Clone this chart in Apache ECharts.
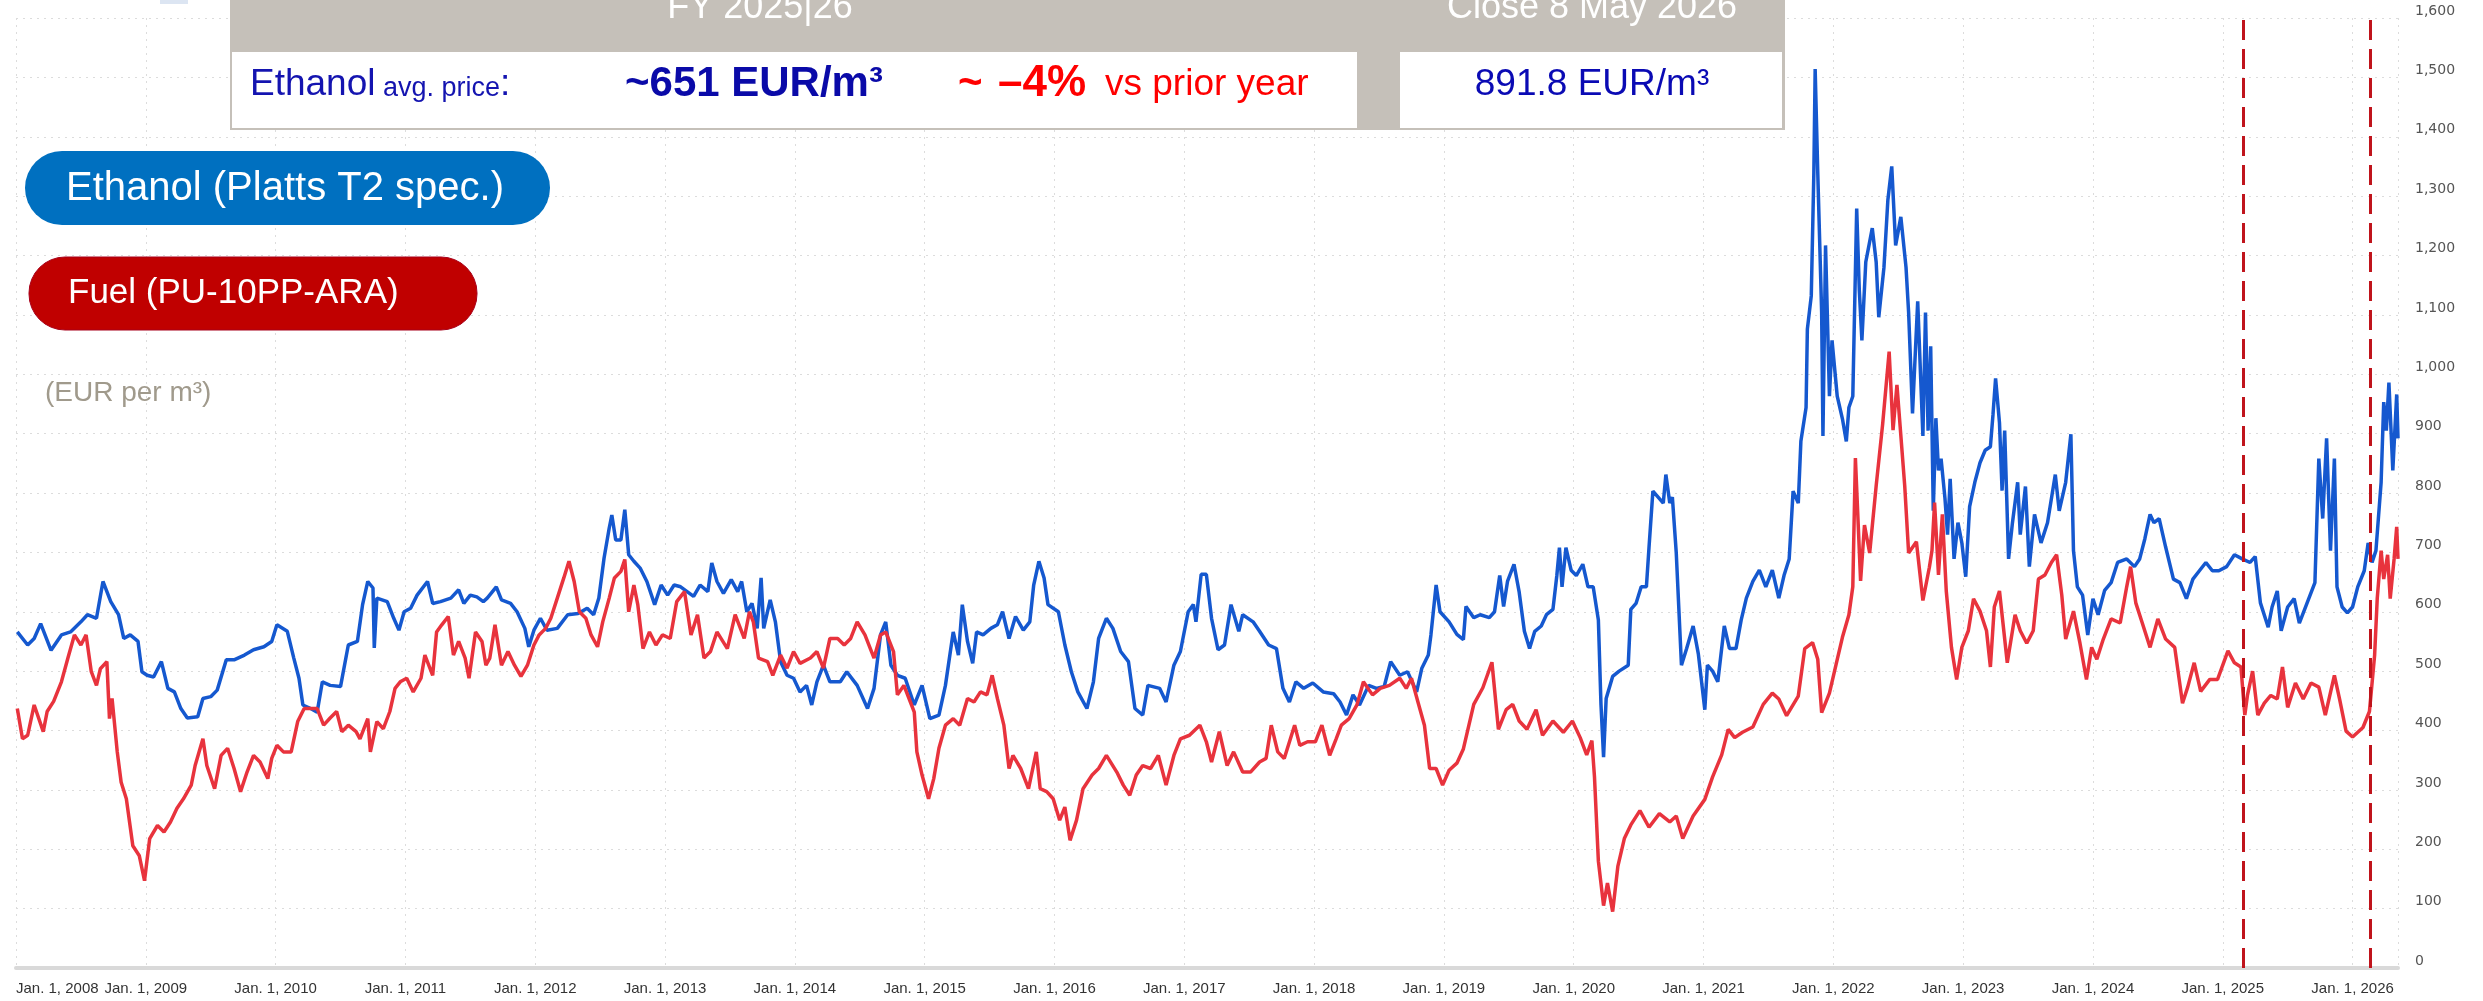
<!DOCTYPE html>
<html>
<head>
<meta charset="utf-8">
<script src="https://cdn.jsdelivr.net/npm/echarts@6/dist/echarts.min.js"></script>
<style>
  html, body { margin: 0; padding: 0; background: #fff; }
  #chart { width: 2483px; height: 1001px; }
</style>
</head>
<body>
<div id="chart"></div>
<script>
// [year (decimal), EUR per m3]
var ethanolPrices = [
  [2008.01,566],[2008.09,544],[2008.14,555],[2008.19,580],[2008.27,535],[2008.35,561],[2008.42,566],[2008.50,583],[2008.55,595],[2008.62,589],
  [2008.67,651],[2008.73,617],[2008.79,595],[2008.83,555],[2008.88,561],[2008.94,550],[2008.97,499],[2009.01,493],[2009.06,490],[2009.12,516],
  [2009.17,471],[2009.22,465],[2009.27,437],[2009.32,421],[2009.40,423],[2009.44,454],[2009.50,457],[2009.55,468],[2009.62,519],[2009.68,519],
  [2009.76,527],[2009.83,536],[2009.91,541],[2009.97,550],[2010.01,578],[2010.09,567],[2010.14,522],[2010.18,488],[2010.21,443],[2010.27,437],
  [2010.32,431],[2010.36,482],[2010.42,476],[2010.50,474],[2010.56,544],[2010.63,550],[2010.67,612],[2010.71,651],[2010.75,640],[2010.76,539],
  [2010.78,623],[2010.86,617],[2010.91,589],[2010.95,569],[2010.99,600],[2011.04,606],[2011.09,628],[2011.17,651],[2011.21,614],[2011.27,617],
  [2011.35,623],[2011.41,637],[2011.45,614],[2011.50,628],[2011.55,625],[2011.60,617],[2011.63,623],[2011.70,642],[2011.74,620],[2011.81,614],
  [2011.86,600],[2011.92,572],[2011.95,541],[2011.99,569],[2012.04,589],[2012.09,569],[2012.17,572],[2012.25,595],[2012.33,597],[2012.40,606],
  [2012.45,595],[2012.49,623],[2012.53,690],[2012.57,741],[2012.59,763],[2012.62,721],[2012.66,721],[2012.69,772],[2012.72,696],[2012.76,685],
  [2012.81,673],[2012.86,651],[2012.92,612],[2012.97,645],[2013.02,628],[2013.07,645],[2013.12,642],[2013.17,634],[2013.22,626],[2013.27,645],
  [2013.33,634],[2013.36,682],[2013.40,651],[2013.45,631],[2013.51,654],[2013.56,634],[2013.59,651],[2013.63,600],[2013.67,614],[2013.71,572],
  [2013.74,657],[2013.76,572],[2013.81,620],[2013.85,583],[2013.89,516],[2013.94,493],[2013.99,488],[2014.04,465],[2014.09,476],[2014.13,443],
  [2014.17,482],[2014.22,510],[2014.27,482],[2014.35,482],[2014.40,499],[2014.48,476],[2014.56,437],[2014.61,471],[2014.66,561],[2014.70,583],
  [2014.74,510],[2014.79,493],[2014.85,488],[2014.92,443],[2014.98,476],[2015.04,420],[2015.11,426],[2015.16,476],[2015.22,566],[2015.26,527],
  [2015.29,612],[2015.33,550],[2015.37,513],[2015.40,566],[2015.45,561],[2015.51,572],[2015.56,578],[2015.60,600],[2015.65,555],[2015.70,592],
  [2015.76,569],[2015.81,583],[2015.84,645],[2015.88,685],[2015.92,657],[2015.95,612],[2016.03,600],[2016.08,544],[2016.13,499],[2016.18,465],
  [2016.25,437],[2016.30,482],[2016.34,555],[2016.40,589],[2016.45,572],[2016.51,533],[2016.57,516],[2016.62,437],[2016.68,426],[2016.72,476],
  [2016.81,471],[2016.86,448],[2016.92,510],[2016.97,533],[2017.03,600],[2017.07,612],[2017.09,583],[2017.13,663],[2017.17,663],[2017.21,589],
  [2017.26,536],[2017.31,544],[2017.36,612],[2017.42,567],[2017.45,595],[2017.53,583],[2017.58,567],[2017.65,544],[2017.71,538],[2017.76,471],
  [2017.81,448],[2017.86,482],[2017.92,471],[2017.99,480],[2018.07,465],[2018.15,462],[2018.20,448],[2018.25,426],[2018.30,460],[2018.35,443],
  [2018.42,476],[2018.48,471],[2018.54,474],[2018.59,516],[2018.66,493],[2018.72,499],[2018.79,465],[2018.83,505],[2018.88,527],[2018.90,561],
  [2018.94,645],[2018.97,600],[2019.04,583],[2019.10,562],[2019.15,553],[2019.17,609],[2019.23,590],[2019.28,595],[2019.35,590],[2019.39,600],
  [2019.43,661],[2019.46,609],[2019.49,651],[2019.54,680],[2019.58,633],[2019.62,567],[2019.66,538],[2019.70,567],[2019.75,576],[2019.79,595],
  [2019.84,604],[2019.87,661],[2019.89,708],[2019.91,642],[2019.94,708],[2019.98,670],[2020.02,661],[2020.07,680],[2020.11,642],[2020.15,642],
  [2020.19,586],[2020.21,444],[2020.23,355],[2020.25,454],[2020.30,491],[2020.35,500],[2020.42,510],[2020.44,604],[2020.48,614],[2020.52,642],
  [2020.56,642],[2020.58,708],[2020.61,803],[2020.65,793],[2020.69,783],[2020.71,831],[2020.74,783],[2020.76,793],[2020.79,699],[2020.83,510],
  [2020.87,538],[2020.92,576],[2020.96,529],[2021.01,435],[2021.03,510],[2021.07,500],[2021.11,482],[2021.16,576],[2021.20,538],[2021.25,538],
  [2021.29,586],[2021.33,623],[2021.38,651],[2021.43,670],[2021.48,642],[2021.53,670],[2021.58,623],[2021.62,661],[2021.66,689],[2021.69,803],
  [2021.73,783],[2021.75,887],[2021.79,944],[2021.80,1076],[2021.83,1132],[2021.85,1340],[2021.86,1514],[2021.88,1340],[2021.91,1104],[2021.92,896],
  [2021.94,1217],[2021.97,963],[2021.99,1057],[2022.03,963],[2022.07,925],[2022.10,887],[2022.12,944],[2022.15,963],[2022.18,1279],[2022.20,1142],
  [2022.22,1057],[2022.25,1189],[2022.30,1246],[2022.33,1189],[2022.35,1096],[2022.39,1180],[2022.42,1293],[2022.45,1350],[2022.48,1217],[2022.52,1265],
  [2022.56,1180],[2022.58,1104],[2022.61,934],[2022.65,1123],[2022.69,896],[2022.71,1104],[2022.73,905],[2022.75,1047],[2022.77,770],[2022.79,926],
  [2022.81,838],[2022.83,858],[2022.86,791],[2022.88,730],[2022.90,824],[2022.93,689],[2022.96,750],[2022.99,716],[2023.02,659],[2023.05,777],
  [2023.09,818],[2023.13,851],[2023.17,872],[2023.21,878],[2023.23,932],[2023.25,993],[2023.28,918],[2023.30,804],[2023.32,905],[2023.35,689],
  [2023.38,750],[2023.42,818],[2023.44,730],[2023.48,811],[2023.51,676],[2023.55,764],[2023.60,716],[2023.65,750],[2023.71,831],[2023.74,770],
  [2023.79,818],[2023.83,899],[2023.85,703],[2023.88,642],[2023.92,628],[2023.96,561],[2024.00,622],[2024.04,595],[2024.09,636],[2024.14,649],
  [2024.19,683],[2024.26,689],[2024.32,676],[2024.36,689],[2024.40,723],[2024.44,764],[2024.47,750],[2024.51,757],[2024.56,709],[2024.62,655],
  [2024.67,649],[2024.72,622],[2024.77,655],[2024.82,669],[2024.87,683],[2024.92,669],[2024.97,669],[2025.03,676],[2025.09,696],[2025.15,689],
  [2025.21,683],[2025.25,693],[2025.29,615],[2025.35,574],[2025.38,608],[2025.42,635],[2025.45,568],[2025.50,608],[2025.55,622],[2025.59,581],
  [2025.65,615],[2025.71,649],[2025.74,858],[2025.77,757],[2025.80,892],[2025.83,703],[2025.86,858],[2025.88,642],[2025.92,608],[2025.96,598],
  [2026.00,608],[2026.04,642],[2026.09,669],[2026.12,716],[2026.15,683],[2026.18,703],[2026.22,818],[2026.24,953],[2026.26,905],[2026.28,986],
  [2026.31,838],[2026.34,966],[2026.35,892]
];

var fuelPrices = [
  [2008.01,437],[2008.05,386],[2008.09,392],[2008.14,443],[2008.21,398],[2008.24,432],[2008.29,449],[2008.35,482],[2008.40,522],[2008.45,561],
  [2008.50,544],[2008.54,561],[2008.58,499],[2008.62,476],[2008.65,504],[2008.70,516],[2008.72,420],[2008.74,454],[2008.78,364],[2008.81,313],
  [2008.85,285],[2008.90,206],[2008.95,189],[2008.99,147],[2009.03,218],[2009.09,240],[2009.14,229],[2009.19,246],[2009.24,269],[2009.29,285],
  [2009.35,308],[2009.38,341],[2009.44,386],[2009.47,341],[2009.53,302],[2009.58,358],[2009.63,370],[2009.68,336],[2009.73,297],[2009.78,330],
  [2009.83,358],[2009.88,347],[2009.94,319],[2009.97,353],[2010.01,375],[2010.06,364],[2010.12,364],[2010.17,415],[2010.22,437],[2010.27,437],
  [2010.32,437],[2010.37,409],[2010.42,421],[2010.47,432],[2010.51,398],[2010.56,409],[2010.62,398],[2010.65,386],[2010.71,420],[2010.73,364],
  [2010.78,415],[2010.83,403],[2010.88,432],[2010.92,471],[2010.96,482],[2011.01,488],[2011.06,465],[2011.12,488],[2011.15,527],[2011.21,493],
  [2011.24,566],[2011.28,578],[2011.33,592],[2011.37,527],[2011.41,550],[2011.46,522],[2011.49,488],[2011.54,566],[2011.59,550],[2011.62,510],
  [2011.65,522],[2011.69,578],[2011.74,510],[2011.79,533],[2011.84,510],[2011.89,491],[2011.94,510],[2011.99,544],[2012.03,561],[2012.08,572],
  [2012.12,589],[2012.17,623],[2012.22,657],[2012.26,685],[2012.30,651],[2012.34,600],[2012.39,589],[2012.43,561],[2012.48,541],[2012.52,583],
  [2012.57,623],[2012.61,657],[2012.66,668],[2012.69,688],[2012.72,600],[2012.76,645],[2012.79,612],[2012.83,538],[2012.88,566],[2012.93,544],
  [2012.98,561],[2013.04,555],[2013.09,617],[2013.15,634],[2013.20,561],[2013.25,595],[2013.30,522],[2013.35,533],[2013.40,566],[2013.48,538],
  [2013.54,595],[2013.61,555],[2013.65,600],[2013.68,583],[2013.72,522],[2013.79,516],[2013.83,493],[2013.89,527],[2013.94,505],[2013.99,533],
  [2014.04,513],[2014.12,522],[2014.17,533],[2014.22,505],[2014.27,555],[2014.33,555],[2014.38,544],[2014.43,555],[2014.48,583],[2014.54,561],
  [2014.61,522],[2014.66,561],[2014.70,566],[2014.76,533],[2014.79,460],[2014.84,476],[2014.89,448],[2014.92,431],[2014.94,364],[2014.98,325],
  [2015.03,285],[2015.07,319],[2015.11,370],[2015.16,409],[2015.22,420],[2015.27,409],[2015.33,454],[2015.38,448],[2015.43,465],[2015.48,460],
  [2015.52,493],[2015.56,454],[2015.61,409],[2015.65,336],[2015.68,358],[2015.74,336],[2015.80,302],[2015.86,364],[2015.89,302],[2015.94,297],
  [2015.99,285],[2016.04,249],[2016.08,271],[2016.12,215],[2016.17,249],[2016.22,302],[2016.29,325],[2016.34,336],[2016.40,358],[2016.48,330],
  [2016.53,308],[2016.58,291],[2016.63,325],[2016.68,341],[2016.74,336],[2016.80,358],[2016.86,308],[2016.92,358],[2016.97,386],[2017.04,392],
  [2017.12,409],[2017.17,381],[2017.21,347],[2017.27,398],[2017.33,341],[2017.38,364],[2017.45,330],[2017.51,330],[2017.58,347],[2017.63,353],
  [2017.67,409],[2017.72,364],[2017.77,353],[2017.85,409],[2017.89,375],[2017.95,381],[2018.01,381],[2018.06,409],[2018.12,358],[2018.17,386],
  [2018.21,409],[2018.27,420],[2018.33,443],[2018.38,482],[2018.45,460],[2018.51,471],[2018.58,476],[2018.66,488],[2018.71,471],[2018.75,488],
  [2018.80,448],[2018.85,409],[2018.89,336],[2018.94,336],[2018.99,308],[2019.04,333],[2019.10,345],[2019.15,369],[2019.23,444],[2019.30,472],
  [2019.37,515],[2019.42,402],[2019.48,435],[2019.53,444],[2019.58,416],[2019.64,402],[2019.71,435],[2019.76,392],[2019.84,416],[2019.92,397],
  [2019.99,416],[2020.05,388],[2020.10,359],[2020.14,383],[2020.16,322],[2020.19,180],[2020.23,105],[2020.26,143],[2020.30,95],[2020.34,171],
  [2020.39,218],[2020.44,241],[2020.51,265],[2020.58,237],[2020.66,260],[2020.74,246],[2020.79,256],[2020.84,218],[2020.92,256],[2021.01,284],
  [2021.07,322],[2021.14,359],[2021.19,402],[2021.24,388],[2021.30,397],[2021.38,406],[2021.46,444],[2021.53,463],[2021.58,453],[2021.64,425],
  [2021.73,458],[2021.78,538],[2021.84,548],[2021.88,520],[2021.91,430],[2021.97,463],[2022.02,510],[2022.07,557],[2022.12,595],[2022.15,642],
  [2022.17,859],[2022.21,652],[2022.24,746],[2022.28,699],[2022.33,812],[2022.38,916],[2022.43,1038],[2022.46,906],[2022.49,982],[2022.55,812],
  [2022.58,699],[2022.64,718],[2022.69,619],[2022.74,675],[2022.76,703],[2022.78,784],[2022.81,662],[2022.84,764],[2022.87,635],[2022.91,540],
  [2022.95,486],[2022.99,540],[2023.04,568],[2023.08,622],[2023.13,601],[2023.18,568],[2023.21,507],[2023.24,608],[2023.28,635],[2023.34,514],
  [2023.40,595],[2023.44,568],[2023.49,547],[2023.54,568],[2023.58,655],[2023.63,662],[2023.68,683],[2023.72,696],[2023.76,628],[2023.79,554],
  [2023.85,601],[2023.90,547],[2023.95,486],[2023.99,540],[2024.03,520],[2024.08,554],[2024.14,588],[2024.21,581],[2024.26,642],[2024.29,676],
  [2024.33,615],[2024.38,581],[2024.44,540],[2024.50,588],[2024.56,554],[2024.63,540],[2024.69,446],[2024.73,473],[2024.78,514],[2024.83,466],
  [2024.90,486],[2024.96,486],[2025.04,534],[2025.09,514],[2025.14,507],[2025.17,426],[2025.19,459],[2025.23,500],[2025.27,426],[2025.32,446],
  [2025.37,459],[2025.42,453],[2025.46,507],[2025.50,439],[2025.56,480],[2025.62,453],[2025.68,480],[2025.74,473],[2025.79,426],[2025.86,493],
  [2025.90,453],[2025.95,399],[2026.00,389],[2026.08,405],[2026.13,432],[2026.17,527],[2026.19,622],[2026.22,703],[2026.24,655],[2026.27,696],
  [2026.29,622],[2026.32,689],[2026.34,743],[2026.35,689]
];

// fiscal year 2025|26 bounds (decimal year)
var fyBounds = [2025.16, 2026.14];
var firstYear = 2008;
var lastDate = 2026.35; // 8 May 2026

var FONT = '"Liberation Sans", Arial, sans-serif';

function txt(text, x, y, size, color, opts) {
  opts = opts || {};
  return {
    type: 'text', z: 100,
    style: {
      text: text, x: x, y: y,
      fill: color,
      fontSize: size,
      fontFamily: opts.family || FONT,
      fontWeight: opts.weight || 'normal',
      textAlign: opts.align || 'left',
      textVerticalAlign: 'middle'
    }
  };
}

var chart = echarts.init(document.getElementById('chart'));

var option = {
  animation: false,
  backgroundColor: '#fff',
  grid: { left: 16, right: 85, top: 18, bottom: 33 },
  xAxis: {
    type: 'value',
    min: firstYear,
    max: lastDate,
    interval: 1,
    axisLine: { show: true, lineStyle: { color: '#d9d9d9', width: 4 } },
    axisTick: { show: false },
    splitLine: { show: true, lineStyle: { color: '#dcdcdc', type: [2, 5], width: 1 } },
    axisLabel: {
      color: '#333',
      fontFamily: FONT,
      fontSize: 15,
      margin: 13,
      showMinLabel: true,
      hideOverlap: false,
      alignMinLabel: 'left',
      formatter: function (v) {
        if (Math.abs(v - Math.round(v)) > 1e-6) return '';
        return 'Jan. 1, ' + Math.round(v);
      }
    }
  },
  yAxis: {
    type: 'value',
    position: 'right',
    min: 0,
    max: 1600,
    interval: 100,
    axisLine: { show: false },
    axisTick: { show: false },
    splitLine: { show: true, lineStyle: { color: '#dcdcdc', type: [2, 5], width: 1 } },
    axisLabel: {
      color: '#555',
      fontFamily: '"DejaVu Sans", Verdana, sans-serif',
      fontSize: 14,
      margin: 17,
      verticalAlign: 'bottom',
      formatter: function (v) { return v.toLocaleString('en-US'); }
    }
  },
  series: [
    {
      name: 'Ethanol (Platts T2 spec.)',
      type: 'line',
      data: ethanolPrices,
      showSymbol: false,
      lineStyle: { color: '#1558cf', width: 3.5 },
      itemStyle: { color: '#1558cf' },
      markLine: {
        silent: true,
        symbol: 'none',
        label: { show: false },
        lineStyle: { color: '#c0141c', width: 3, type: [20, 9] },
        data: fyBounds.map(function (d) { return { xAxis: d }; })
      }
    },
    {
      name: 'Fuel (PU-10PP-ARA)',
      type: 'line',
      data: fuelPrices,
      showSymbol: false,
      lineStyle: { color: '#e8333d', width: 3.5 },
      itemStyle: { color: '#e8333d' }
    }
  ],
  graphic: [
    // small cut-off element at top
    { type: 'rect', z: 90, shape: { x: 160, y: 0, width: 28, height: 4 }, style: { fill: '#dce5f2' } },
    // header table
    { type: 'rect', z: 90, shape: { x: 230, y: 0, width: 1555, height: 130 }, style: { fill: '#c5c0b9' } },
    { type: 'rect', z: 91, shape: { x: 232, y: 52, width: 1125, height: 76 }, style: { fill: '#fff' } },
    { type: 'rect', z: 91, shape: { x: 1400, y: 52, width: 382, height: 76 }, style: { fill: '#fff' } },
    txt('FY 2025|26', 760, 8, 36, '#fff', { align: 'center' }),
    txt('Close 8 May 2026', 1592, 8, 36, '#fff', { align: 'center' }),
    txt('Ethanol', 250, 85, 37, '#1414b0'),
    txt('avg. price', 383, 89, 27, '#1414b0'),
    txt(':', 500, 85, 37, '#1414b0'),
    txt('~651 EUR/m\u00b3', 625, 84, 42, '#0a0aa8', { weight: 'bold' }),
    txt('~', 958, 84, 42, '#ff0000', { weight: 'bold' }),
    txt('\u20134%', 998, 84, 44, '#ff0000', { weight: 'bold' }),
    txt('vs prior year', 1105, 85, 37, '#ff0000'),
    txt('891.8 EUR/m\u00b3', 1592, 85, 37, '#0a0ab4', { align: 'center' }),
    // legend pills
    { type: 'rect', z: 90, shape: { x: 25, y: 151, width: 525, height: 74, r: 37 }, style: { fill: '#0070c0' } },
    txt('Ethanol (Platts T2 spec.)', 66, 189, 40, '#fff'),
    { type: 'rect', z: 90, shape: { x: 29, y: 257, width: 448, height: 73, r: 36 }, style: { fill: '#c00000', stroke: '#a8001a', lineWidth: 1 } },
    txt('Fuel (PU-10PP-ARA)', 68, 293, 35, '#fff'),
    txt('(EUR per m\u00b3)', 45, 393, 28, '#a09a8c')
  ]
};

chart.setOption(option);
</script>
</body>
</html>
